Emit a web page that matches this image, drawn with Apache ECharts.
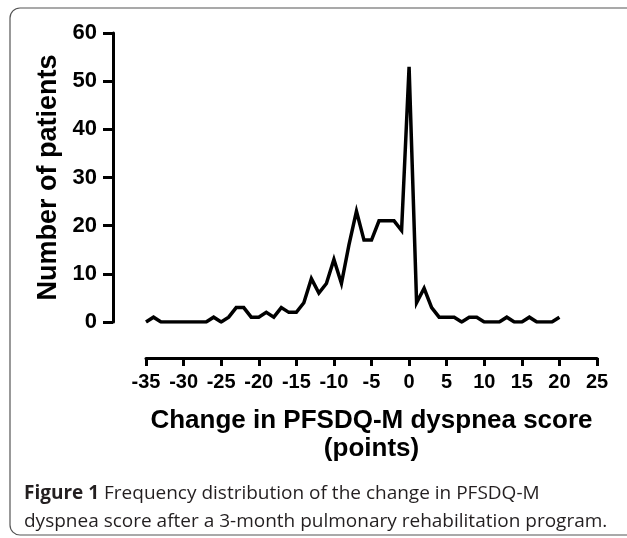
<!DOCTYPE html>
<html><head><meta charset="utf-8">
<script src="https://cdn.jsdelivr.net/npm/echarts@6/dist/echarts.min.js"></script>
<style>html,body{margin:0;padding:0;background:#fff}#c{width:627px;height:538px}</style>
</head><body><div id="c"></div>
<script>
const scoreChange = [-35,-34,-33,-32,-31,-30,-29,-28,-27,-26,-25,-24,-23,-22,-21,-20,-19,-18,-17,-16,-15,-14,-13,-12,-11,-10,-9,-8,-7,-6,-5,-4,-3,-2,-1,0,1,2,3,4,5,6,7,8,9,10,11,12,13,14,15,16,17,18,19,20];
const patients = [0,1,0,0,0,0,0,0,0,1,0,1,3,3,1,1,2,1,3,2,2,4,9,6,8,13,8,16,23,17,17,21,21,21,19,53,4,7,3,1,1,1,0,1,1,0,0,0,1,0,0,1,0,0,0,1];
const yTicks = [0,10,20,30,40,50,60];
const xTicks = [-35,-30,-25,-20,-15,-10,-5,0,5,10,15,20,25];
const xTitle = 'Change in PFSDQ-M dyspnea score\n(points)';
const yTitle = 'Number of patients';
const captionBold = 'Figure 1';
const captionLine1 = ' Frequency distribution of the change in PFSDQ-M';
const captionLine2 = 'dyspnea score after a 3-month pulmonary rehabilitation program.';

const chart = echarts.init(document.getElementById('c'), null, {renderer:'canvas'});
const axisFont = {fontFamily:'Liberation Sans, Arial, sans-serif', fontWeight:'bold', color:'#000'};
chart.setOption({
  animation:false,
  backgroundColor:'#fff',
  grid:{left:146, right:30, top:33, bottom:216, containLabel:false},
  xAxis:{
    type:'value', min:-35, max:25, interval:5, offset:36,
    axisLine:{show:true, onZero:false, lineStyle:{color:'#000', width:3}},
    axisTick:{show:true, length:8, lineStyle:{color:'#000', width:3}},
    splitLine:{show:false},
    axisLabel:Object.assign({fontSize:20, margin:14, formatter:v=>xTicks.includes(v)?String(v):''}, axisFont),
    name:xTitle, nameLocation:'middle', nameGap:49,
    nameTextStyle:Object.assign({fontSize:26, lineHeight:28}, axisFont)
  },
  yAxis:{
    type:'value', min:0, max:60, interval:10, offset:33,
    axisLine:{show:true, onZero:false, lineStyle:{color:'#000', width:3}},
    axisTick:{show:true, length:10, lineStyle:{color:'#000', width:3}},
    splitLine:{show:false},
    axisLabel:Object.assign({fontSize:22, margin:16, formatter:v=>yTicks.includes(v)?String(v):''}, axisFont),
    name:yTitle, nameLocation:'middle', nameGap:50,
    nameTextStyle:Object.assign({fontSize:27}, axisFont)
  },
  series:[{
    type:'line', data:scoreChange.map((x,i)=>[x,patients[i]]),
    showSymbol:false, symbol:'none',
    lineStyle:{color:'#000', width:3.5, join:'miter'}
  }],
  graphic:[
    {type:'rect', shape:{x:10, y:8, width:640, height:527, r:10}, style:{fill:'none', stroke:'#555', lineWidth:1.2}, z:-1},
    {type:'text', left:24, top:484, style:{
      text:'{b|'+captionBold+'}{n|'+captionLine1+'}\n{n|'+captionLine2+'}',
      rich:{
        b:{fontFamily:'Open Sans, sans-serif', fontWeight:'bold', fontSize:19, fill:'#231f20', lineHeight:28},
        n:{fontFamily:'Open Sans, sans-serif', fontSize:19, fill:'#231f20', lineHeight:28}
      }
    }}
  ]
});
</script></body></html>
